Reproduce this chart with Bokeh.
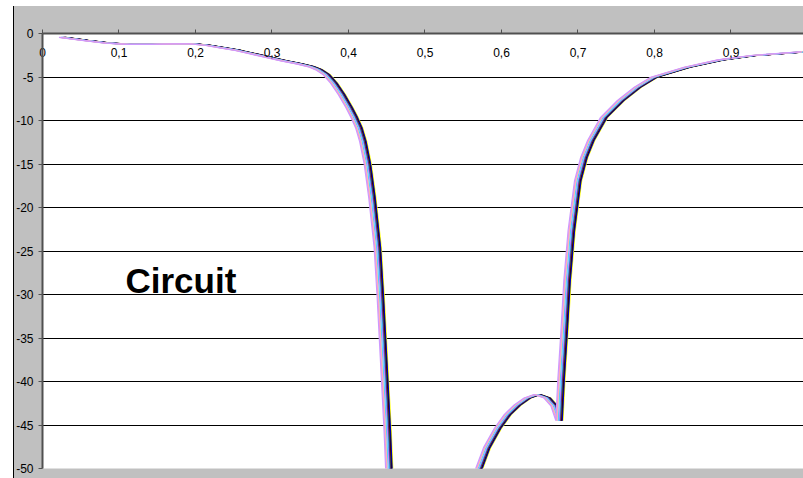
import math
from bokeh.plotting import figure
from bokeh.models import FixedTicker, Label, Range1d
from bokeh.embed import file_html
from bokeh.resources import INLINE

nan = float("nan")

# normalised frequency (shared sample points) and response of the reference trace (dB)
freq = [0.030, 0.060, 0.090, 0.120, 0.150, 0.180, 0.200, 0.220, 0.240, 0.260,
        0.280, 0.300, 0.320, 0.340, 0.355, 0.365, 0.375, 0.385, 0.395, 0.405,
        0.412, 0.418, 0.423, 0.429, 0.435, 0.442, 0.446, 0.4505, 0.455, 0.4575, nan,
        0.5705, 0.585, 0.599, 0.612, 0.625, 0.638, 0.651, 0.664, 0.673, 0.6795,
        0.682, 0.686, 0.690, 0.6955, 0.704, 0.712, 0.721, 0.738, 0.760, 0.782,
        0.8035, 0.847, 0.891, 0.934, 0.9935, 1.0]
base_db = [-0.45, -0.8, -1.1, -1.25, -1.25, -1.2, -1.2, -1.35, -1.65, -1.95,
           -2.35, -2.75, -3.15, -3.5, -3.8, -4.15, -4.7, -5.7, -7.0, -8.5,
           -9.7, -10.9, -12.4, -15.0, -18.9, -24.6, -30.4, -38.0, -45.7, -51.0, nan,
           -51.0, -47.6, -45.4, -43.8, -42.7, -41.9, -41.5, -41.9, -42.8, -44.5,
           -40.0, -34.5, -28.4, -22.7, -16.9, -14.25, -12.3, -9.64, -7.7, -6.18,
           -5.03, -3.88, -3.03, -2.53, -2.15, -2.1]

# the bundle of traces (drawn in this order): each one is the reference trace
# shifted in frequency by the amount
series_colors = ["#FFFF00", "#000080", "#0000FF", "#000000", "#800000", "#008080",
                 "#800080", "#00FFFF", "#FF00FF", "#CCFFFF", "#00CCFF", "#99CCFF",
                 "#FFCC99", "#FF99CC", "#CC99FF"]
series_shift = [0.0009, 0.0, -0.0006, -0.0012, -0.0018, -0.0025,
                -0.003, -0.0038, -0.0045, -0.005, -0.0055, -0.006,
                -0.0068, -0.0075, -0.0085]

x_ticks = [0.0, 0.1, 0.2, 0.3, 0.4, 0.5, 0.6, 0.7, 0.8, 0.9]
x_tick_labels = ["0", "0,1", "0,2", "0,3", "0,4", "0,5", "0,6", "0,7", "0,8", "0,9"]
y_ticks = [0, -5, -10, -15, -20, -25, -30, -35, -40, -45, -50]
y_tick_labels = ["0", "-5", "-10", "-15", "-20", "-25", "-30", "-35", "-40", "-45", "-50"]
title_text = "Circuit"
# clipped tick labels of a neighbouring chart, visible at the very top
stray_x = [0.7369, 0.8676]
stray_labels = ["0", "0,5"]

FONT = "Liberation Sans"

p = figure(width=790, height=478, x_range=Range1d(0, 0.9948), y_range=Range1d(-50, 0),
           x_axis_location="above", output_backend="svg", toolbar_location=None,
           min_border_left=29, min_border_top=33, min_border_right=0, min_border_bottom=10)
p.margin = (0, 0, 0, 13)
p.styles = {"background": "linear-gradient(to bottom, white 6px, transparent 6px), "
                          "linear-gradient(to right, black 1px, #C0C0C0 1px)"}
p.background_fill_color = "white"
p.border_fill_color = None
p.outline_line_color = None

# grid
p.xgrid.visible = False
p.ygrid.ticker = FixedTicker(ticks=y_ticks)
p.ygrid.grid_line_color = "black"
p.ygrid.grid_line_width = 1

# left axis
ya = p.yaxis[0]
ya.ticker = FixedTicker(ticks=y_ticks)
ya.major_label_overrides = {t: l for t, l in zip(y_ticks, y_tick_labels)}
ya.axis_line_color = "#505050"
ya.axis_line_width = 2
ya.major_tick_line_color = "#505050"
ya.major_tick_in = 0
ya.major_tick_out = 4
ya.minor_tick_line_color = None
ya.major_label_standoff = 5
ya.major_label_text_font = FONT
ya.major_label_text_font_size = "12px"
ya.major_label_text_color = "black"

# top axis: ticks point up, labels sit inside the plot below the axis line
xa = p.xaxis[0]
xa.ticker = FixedTicker(ticks=x_ticks)
xa.major_label_overrides = {t: l for t, l in zip(x_ticks, x_tick_labels)}
xa.axis_line_color = "#505050"
xa.axis_line_width = 2
xa.major_tick_line_color = "#505050"
xa.major_tick_in = 0
xa.major_tick_out = 4
xa.minor_tick_line_color = None
xa.major_label_standoff = -27
xa.major_label_text_font = FONT
xa.major_label_text_font_size = "12px"
xa.major_label_text_color = "black"

# traces
for c, s in zip(series_colors, series_shift):
    xs = [f + s for f in freq]
    p.line(xs, base_db, line_color=c, line_width=1.2)

p.add_layout(Label(x=0.1085, y=-28.4, text=title_text, text_font=FONT,
                   text_font_size="35px", text_font_style="bold",
                   text_baseline="middle", text_align="left", text_color="black"))

for sx, st in zip(stray_x, stray_labels):
    p.add_layout(Label(x=sx, y=0, text=st, y_offset=27, text_font=FONT,
                       text_font_size="14px", text_baseline="alphabetic",
                       text_align="center", text_color="black"))

open("out.html", "w").write(file_html(p, INLINE))
